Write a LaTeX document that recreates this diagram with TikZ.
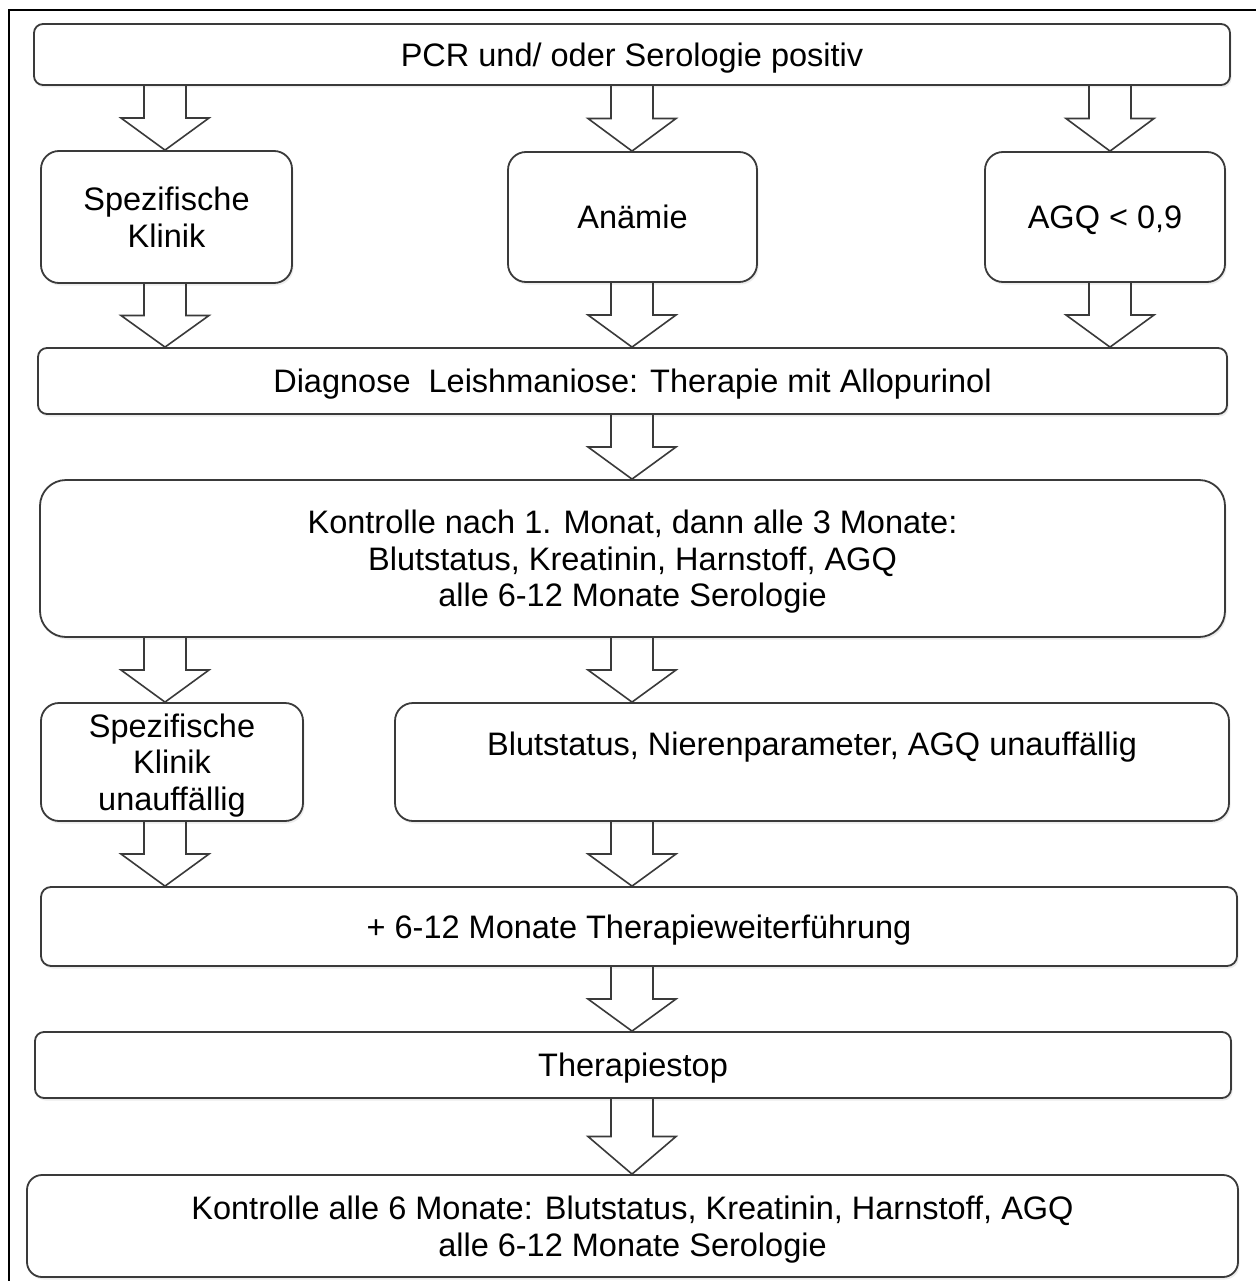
\documentclass[tikz,border=0pt]{standalone}
\usepackage{fontspec}
\setmainfont{Liberation Sans}
\usetikzlibrary{calc,shadows}

\definecolor{linegray}{HTML}{3A3A3A}

% hollow block arrow between two points, head starts halfway
\newcommand{\fatarrow}[2]{%
  \path #1 coordinate (fa-s) #2 coordinate (fa-t);
  \path ($(fa-s)!0.5!(fa-t)$) coordinate (fa-m);
  \draw[fatline] ([xshift=-21pt]fa-s) -- ([xshift=-21pt]fa-m) -- ([xshift=-44pt]fa-m)
    -- (fa-t) -- ([xshift=44pt]fa-m) -- ([xshift=21pt]fa-m) -- ([xshift=21pt]fa-s);
}

\begin{document}
\begin{tikzpicture}
[x = 1pt, y = -1pt,
every node/.style = {draw=linegray, line width=1.8pt, fill=white, align=center, inner sep=0pt,
  font=\fontsize{32.5}{36.5}\selectfont, text=black, text depth=0pt},
box/.style = {rounded corners=#1, drop shadow={shadow xshift=1.5pt, shadow yshift=-2.5pt, opacity=.15}},
fatline/.style = {draw=linegray, line width=1.6pt, line join=miter}]

\useasboundingbox (0,0) rectangle (1255,1281);
\fill[white] (0,0) rectangle (1255,1281);
\draw[line width=1.3pt] (1262,10) -- (9,10) -- (9,1290);

\coordinate (colL) at (165,0);
\coordinate (colM) at (632,0);
\coordinate (colR) at (1110,0);

\node[box=9pt, minimum width=1196pt, minimum height=61pt] (pcr) at (632,54.5) {PCR und/ oder Serologie positiv};

\node[box=18pt, minimum width=251pt, minimum height=132pt] (klinik) at (166.5,217) {Spezifische\\Klinik};
\node[box=18pt, minimum width=249pt, minimum height=130pt] (anaemie) at (632.5,217) {Anämie};
\node[box=18pt, minimum width=240pt, minimum height=130pt] (agq) at (1105,217) {AGQ < 0,9};

\node[box=9pt, minimum width=1189pt, minimum height=66pt] (diag) at (632.5,381) {Diagnose~ Leishmaniose: Therapie mit Allopurinol};

\node[box=26pt, minimum width=1185pt, minimum height=157pt] (kontr) at (632.5,558.5)
  {Kontrolle nach 1. Monat, dann alle 3 Monate:\\Blutstatus, Kreatinin, Harnstoff, AGQ\\alle 6-12 Monate Serologie};

\node[box=18pt, minimum width=262pt, minimum height=118pt] (unauf) at (172,762) {Spezifische\\Klinik\\unauffällig};
\node[box=18pt, minimum width=834pt, minimum height=118pt] (blut) at (812,762) {Blutstatus, Nierenparameter, AGQ unauffällig\\\mbox{}};

\node[box=10pt, minimum width=1196pt, minimum height=79pt] (weiter) at (639,926.5) {+ 6-12 Monate Therapieweiterführung};

\node[box=9pt, minimum width=1196pt, minimum height=66pt] (stop) at (633,1065) {Therapiestop};

\node[box=15pt, minimum width=1211pt, minimum height=102pt] (final) at (632.5,1226)
  {Kontrolle alle 6 Monate: Blutstatus, Kreatinin, Harnstoff, AGQ\\alle 6-12 Monate Serologie};

\foreach \a/\b/\c in {pcr/klinik/colL, pcr/anaemie/colM, pcr/agq/colR,
  klinik/diag/colL, anaemie/diag/colM, agq/diag/colR, diag/kontr/colM,
  kontr/unauf/colL, kontr/blut/colM, unauf/weiter/colL, blut/weiter/colM,
  weiter/stop/colM, stop/final/colM}
  {\fatarrow{(\c |- \a.south)}{(\c |- \b.north)}}

\end{tikzpicture}
\end{document}
